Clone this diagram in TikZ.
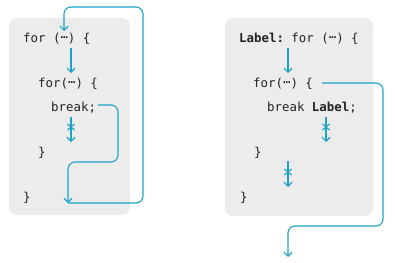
\documentclass[tikz,border=0pt]{standalone}
\usepackage{fontspec}
\setmonofont{DejaVu Sans Mono}
\usetikzlibrary{arrows.meta,shapes.misc}
\definecolor{flow}{HTML}{1CA3C6}
\definecolor{boxgray}{HTML}{ECECEC}
\definecolor{code}{HTML}{222222}
\newcommand{\dotsmid}{\raisebox{0.27em}{…}}
\begin{document}
\begin{tikzpicture}[x=1pt,y=-1pt,
  codebox/.style={fill=boxgray,rounded corners=8pt,draw=none},
  codeline/.style={anchor=base west,inner sep=0pt,text=code,font=\ttfamily\fontsize{12.4}{14}\selectfont},
  flowline/.style={draw=flow,line width=1.1pt,rounded corners=7pt,-{Straight Barb[length=4pt,width=8pt]}},
  blockmark/.style={cross out,draw=flow,line width=1.1pt,minimum width=6pt,minimum height=5pt,inner sep=0pt}]
\useasboundingbox (0,0) rectangle (395,262);
% boxes
\path[codebox] (9,18) rectangle (130,215);
\path[codebox] (225,18) rectangle (373,216);
% left code
\node[codeline] (l1) at (23,42) {for (\dotsmid) \{};
\node[codeline] (l2) at (38,87) {for(\dotsmid) \{};
\node[codeline] (l3) at (51,111) {break;};
\node[codeline] (l4) at (38,156) {\}};
\node[codeline] (l5) at (23,201) {\}};
% right code
\node[codeline] (r1) at (239,42) {\textbf{Label:} for (\dotsmid) \{};
\node[codeline] (r2) at (253,87) {for(\dotsmid) \{};
\node[codeline] (r3) at (267,111) {break \textbf{Label};};
\node[codeline] (r4) at (254,156) {\}};
\node[codeline] (r5) at (240,201) {\}};
% left coordinates
\coordinate (la1) at (71,48);
\coordinate (la2) at (71,73);
\coordinate (lbrk) at (98,105);
\coordinate (lbot) at (68,203);
\coordinate (ltop) at (64,31);
\coordinate (lb1) at (71,117);
\coordinate (lb2) at (71,142);
% right coordinates
\coordinate (ra1) at (288,48);
\coordinate (ra2) at (288,73);
\coordinate (rfor) at (322,83);
\coordinate (rout) at (288,257);
\coordinate (rb1) at (326,117);
\coordinate (rb2) at (326,142);
\coordinate (rc1) at (288,161);
\coordinate (rc2) at (288,187);
% left flows
\draw[flowline] (la1) -- (la2);
\draw[flowline] (lbrk) -- (118,105) -- (118,162) -- (68,162) -- (lbot);
\draw[flowline] (lbot) -- (143,203) -- (143,7) -- (64,7) -- (ltop);
\draw[flowline] (lb1) -- (lb2);
\node[blockmark] (lx) at (71,127) {};
% right flows
\draw[flowline] (ra1) -- (ra2);
\draw[flowline] (rfor) -- (383,83) -- (383,226) -- (288,226) -- (rout);
\draw[flowline] (rb1) -- (rb2);
\node[blockmark] (rx1) at (326,127) {};
\draw[flowline] (rc1) -- (rc2);
\node[blockmark] (rx2) at (288,172) {};
\end{tikzpicture}
\end{document}
